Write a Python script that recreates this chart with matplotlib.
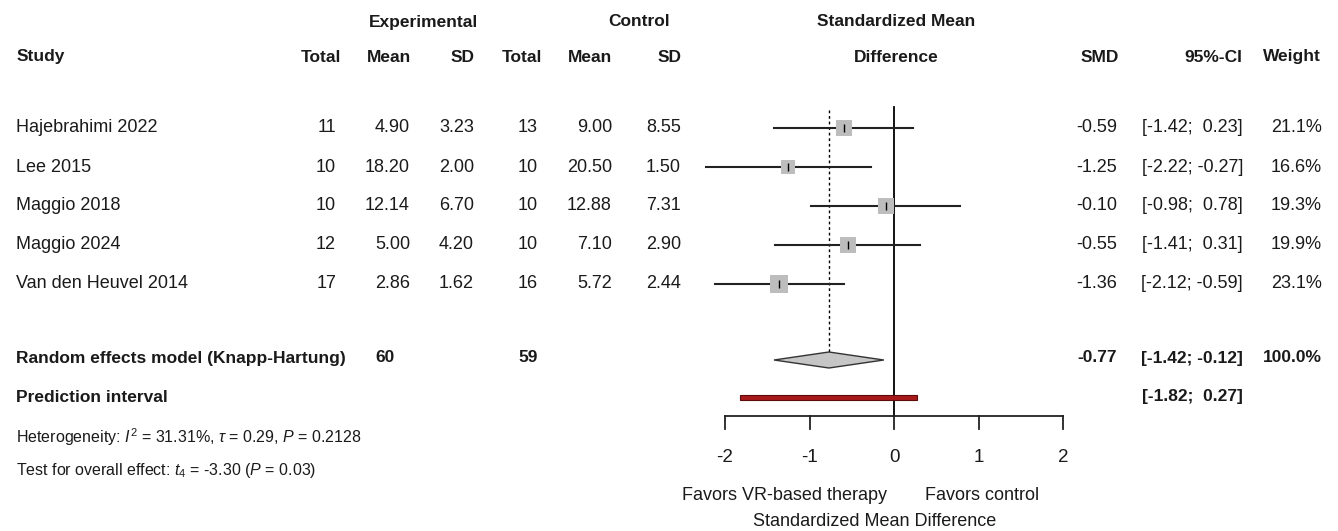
import matplotlib
matplotlib.use("Agg")
import matplotlib.pyplot as plt
import numpy as np
from matplotlib import font_manager
from matplotlib.patches import Polygon, Rectangle

# study-level data
studies = ["Hajebrahimi 2022", "Lee 2015", "Maggio 2018", "Maggio 2024", "Van den Heuvel 2014"]
exp_n = [11, 10, 10, 12, 17]
exp_mean = [4.90, 18.20, 12.14, 5.00, 2.86]
exp_sd = [3.23, 2.00, 6.70, 4.20, 1.62]
ctl_n = [13, 10, 10, 10, 16]
ctl_mean = [9.00, 20.50, 12.88, 7.10, 5.72]
ctl_sd = [8.55, 1.50, 7.31, 2.90, 2.44]
smd = [-0.59, -1.25, -0.10, -0.55, -1.36]
ci_lo = [-1.42, -2.22, -0.98, -1.41, -2.12]
ci_hi = [0.23, -0.27, 0.78, 0.31, -0.59]
weight = [21.1, 16.6, 19.3, 19.9, 23.1]

# pooled results
total_exp, total_ctl = 60, 59
pooled_smd, pooled_lo, pooled_hi = -0.77, -1.42, -0.12
pred_lo, pred_hi = -1.82, 0.27
xticks = [-2, -1, 0, 1, 2]

W, H = 1338, 531

# the original uses a narrow Arial-like face; use Liberation Sans Narrow if present
names = {f.name for f in font_manager.fontManager.ttflist}
if "Liberation Sans Narrow" in names:
    FACE = "Liberation Sans Narrow"
    FS, FSB, FSS, FST = 15, 15, 14.3, 15
else:
    FACE = "Liberation Sans"
    FS, FSB, FSS, FST = 13, 12.5, 11.5, 13.5

plt.rcParams["font.family"] = [FACE, "DejaVu Sans"]
plt.rcParams["mathtext.fontset"] = "custom"
plt.rcParams["mathtext.rm"] = FACE
plt.rcParams["mathtext.it"] = FACE + ":italic"

fig = plt.figure(figsize=(W / 100, H / 100), dpi=100)
fig.patch.set_facecolor("white")

INK = "#1a1a1a"


def T(x, y, s, ha="left", bold=False, size=None):
    fig.text(x / W, 1 - y / H, s, ha=ha, va="center", color=INK,
             fontsize=size or (FSB if bold else FS),
             fontweight="bold" if bold else "normal")


# header
hy1, hy2 = 22, 57
T(424, hy1, "Experimental", "center", True)
T(670, hy1, "Control", "right", True)
T(896, hy1, "Standardized Mean", "center", True)
T(17, hy2, "Study", bold=True)
for x, s in [(341, "Total"), (411, "Mean"), (475, "SD"), (542, "Total"),
             (612, "Mean"), (682, "SD"), (1119, "SMD"), (1242, "95%-CI"), (1321, "Weight")]:
    T(x, hy2, s, "right", True)
T(896, hy2, "Difference", "center", True)

# study rows
row_y = [128 + 39 * i for i in range(len(studies))]
for i, y in enumerate(row_y):
    T(16, y, studies[i])
    T(336, y, f"{exp_n[i]}", "right")
    T(410, y, f"{exp_mean[i]:.2f}", "right")
    T(474, y, f"{exp_sd[i]:.2f}", "right")
    T(538, y, f"{ctl_n[i]}", "right")
    T(612, y, f"{ctl_mean[i]:.2f}", "right")
    T(681, y, f"{ctl_sd[i]:.2f}", "right")
    T(1117, y, f"{smd[i]:.2f}", "right")
    hi = f"{ci_hi[i]:.2f}" if ci_hi[i] < 0 else f" {ci_hi[i]:.2f}"
    T(1243, y, f"[{ci_lo[i]:.2f}; {hi}]", "right")
    T(1322, y, f"{weight[i]:.1f}%", "right")

# pooled rows
y_re, y_pi = 358, 397
T(16, y_re, "Random effects model (Knapp-Hartung)", bold=True)
T(395, y_re, f"{total_exp}", "right", True)
T(538, y_re, f"{total_ctl}", "right", True)
T(1117, y_re, f"{pooled_smd:.2f}", "right", True)
T(1243, y_re, f"[{pooled_lo:.2f}; {pooled_hi:.2f}]", "right", True)
T(1322, y_re, "100.0%", "right", True)
T(16, y_pi, "Prediction interval", bold=True)
T(1243, y_pi, f"[{pred_lo:.2f};  {pred_hi:.2f}]", "right", True)
T(16, 437, r"Heterogeneity: $I^2$ = 31.31%, $\tau$ = 0.29, $P$ = 0.2128", size=FSS)
T(16, 470, r"Test for overall effect: $t_4$ = -3.30 ($P$ = 0.03)", size=FSS)

# forest panel: x in SMD units, y in pixels
ax = fig.add_axes([725 / W, 0, (1063 - 725) / W, 1])
ax.set_xlim(-2, 2)
ax.set_ylim(H, 0)
ax.axis("off")

ax.plot([0, 0], [107, 416], color="black", lw=1.3, clip_on=False)
ax.plot([pooled_smd, pooled_smd], [110, 352], color="black", lw=1, ls=(0, (2, 2)), clip_on=False)

for i, y in enumerate(row_y):
    ax.plot([ci_lo[i], ci_hi[i]], [y, y], color="#222222", lw=1.5, clip_on=False, zorder=2)
    ax.plot(smd[i], y, marker="s", ms=11.5 * np.sqrt(weight[i] / 20), color="#bdbdbd",
            mew=0, clip_on=False, zorder=3)
    ax.plot(smd[i], y, marker="|", ms=6, color="black", mew=1.0, clip_on=False, zorder=4)

ax.add_patch(Polygon([[pooled_lo, 360], [pooled_smd, 352], [pooled_hi, 360], [pooled_smd, 368]],
                     closed=True, facecolor="#c6c6c6", edgecolor="#333333", lw=1, zorder=3,
                     clip_on=False))
ax.add_patch(Rectangle((pred_lo, 394.5), pred_hi - pred_lo, 5, facecolor="#a81a1a",
                       edgecolor="#5e0b0b", lw=0.8, zorder=3, clip_on=False))

# x axis
ax.plot([xticks[0], xticks[-1]], [416, 416], color="#222222", lw=1.3, clip_on=False)
for t in xticks:
    ax.plot([t, t], [416, 429], color="#222222", lw=1.3, clip_on=False)
    ax.text(t, 457, f"{t}", ha="center", va="center", fontsize=FST, color=INK)

T(887, 495, "Favors VR-based therapy", "right")
T(925, 495, "Favors control", "left")
T(875, 522, "Standardized Mean Difference", "center")

fig.savefig("out.png", dpi=100, facecolor="white")
